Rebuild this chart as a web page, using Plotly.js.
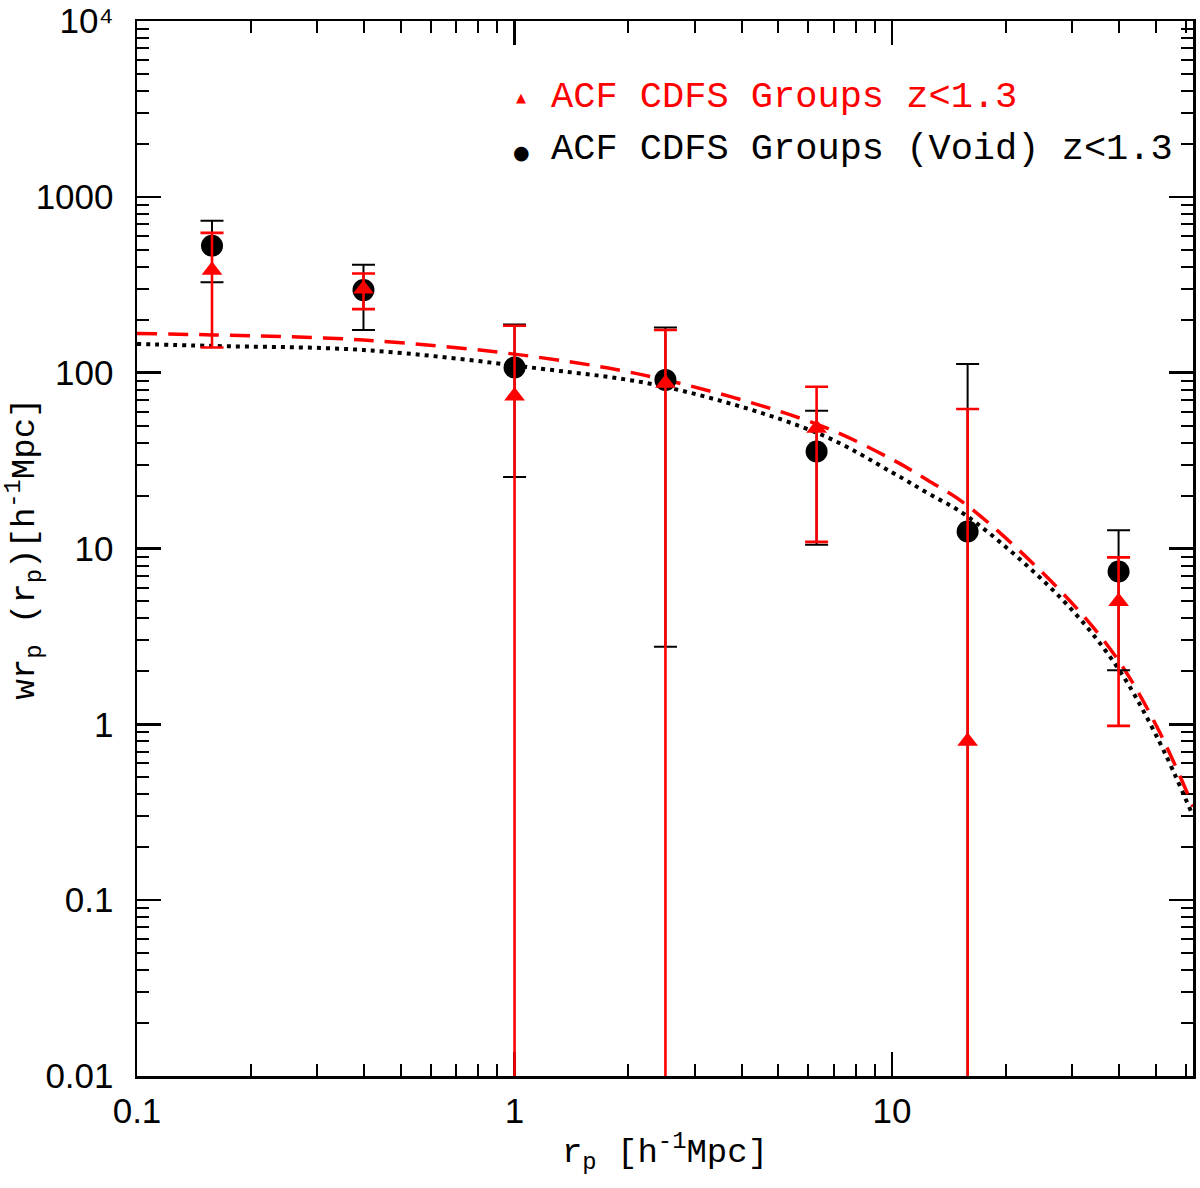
<!DOCTYPE html>
<html>
<head>
<meta charset="utf-8">
<script src="https://cdn.plot.ly/plotly-3.0.1.min.js"></script>
<style>
  html, body { margin: 0; padding: 0; background: #fff; }
  #plot { width: 1200px; height: 1188px; }
</style>
</head>
<body>
<div id="plot"></div>
<script>
// PUNTOS (rp en h^-1 Mpc)
var rp = [0.158, 0.398, 1.0, 2.51, 6.31, 15.85, 39.8];

// ACF CDFS Groups (Void) z<1.3  -> circulos negros
var wVoid = [527, 295, 107, 91, 35.6, 12.5, 7.4];
var wVoidHigh = [731, 411, 188, 181, 60.8, 112, 12.7];
var wVoidLow = [327, 175, 25.5, 2.76, 10.5, 0.001, 2.03];   // 0.001 = baja hasta el eje

// ACF CDFS Groups z<1.3  -> triangulos rojos
var wGroups = [383, 299, 73.8, 87, 48.3, 0.80, 5.0];
var wGroupsHigh = [624, 367, 185, 175, 83.2, 62.2, 8.9];
var wGroupsLow = [139, 230, 0.001, 0.001, 10.9, 0.001, 0.98];

// CURVAS DEL MODELO
var rpModel = [0.1, 0.158, 0.398, 1.147, 2.51, 6.31, 10.06, 12.4, 15.85, 27.8, 39.1, 50.2, 62.7];
var modelRed = [167, 164, 153.5, 122.7, 91, 51, 31.9, 24.5, 17.5, 5.8, 2.43, 0.975, 0.34];
var modelBlack = [145.6, 142, 134.6, 106, 83, 45.6, 26.9, 20.7, 15.2, 5.3, 2.18, 0.855, 0.30];

// ETIQUETAS
var xTickVals = [0.1, 1, 10];
var xTickText = ['0.1', '1', '10'];
var yTickVals = [0.01, 0.1, 1, 10, 100, 1000, 10000];
var yTickText = ['0.01', '0.1', '1', '10', '100', '1000', '10\u2074'];
var legendRed = 'ACF CDFS Groups z<1.3';
var legendBlack = 'ACF CDFS Groups (Void) z<1.3';

var RED = '#ff0000';
var MONO = 'Liberation Mono, Courier New, monospace';
var SANS = 'Liberation Sans, DejaVu Sans, Arial, sans-serif';

function plus(hi, y) { return hi.map(function (h, i) { return h - y[i]; }); }
function minus(lo, y) { return lo.map(function (l, i) { return y[i] - l; }); }

// ticks menores 2..9 de cada decada
function minorTicks(from, to) {
  var out = [];
  for (var e = from; e < to; e++) {
    for (var k = 2; k <= 9; k++) out.push(k * Math.pow(10, e));
  }
  return out;
}

var traceRedModel = {
  x: rpModel, y: modelRed, mode: 'lines', type: 'scatter',
  line: { color: RED, width: 3.5, dash: '20px,11px', shape: 'spline' },
  showlegend: false, hoverinfo: 'skip'
};
var traceBlackModel = {
  x: rpModel, y: modelBlack, mode: 'lines', type: 'scatter',
  line: { color: '#000', width: 4, dash: '4px,5px', shape: 'spline' },
  showlegend: false, hoverinfo: 'skip'
};
var traceVoid = {
  x: rp, y: wVoid, mode: 'markers', type: 'scatter',
  marker: { symbol: 'circle', size: 22, color: '#000' },
  error_y: {
    type: 'data', symmetric: false,
    array: plus(wVoidHigh, wVoid), arrayminus: minus(wVoidLow, wVoid),
    color: '#000', thickness: 2, width: 11.5
  },
  showlegend: false
};
var traceGroups = {
  x: rp, y: wGroups, mode: 'markers', type: 'scatter',
  marker: { symbol: 'triangle-up', size: 18, color: RED },
  error_y: {
    type: 'data', symmetric: false,
    array: plus(wGroupsHigh, wGroups), arrayminus: minus(wGroupsLow, wGroups),
    color: RED, thickness: 2.6, width: 11.5
  },
  showlegend: false
};

var axisCommon = {
  type: 'log',
  layer: 'below traces',
  showline: true, linecolor: '#000', linewidth: 2.5, mirror: 'allticks',
  ticks: 'inside', ticklen: 24, tickwidth: 2.5, tickcolor: '#000',
  showgrid: false, zeroline: false,
  tickfont: { family: SANS, size: 35, color: '#000' }
};

var layout = {
  width: 1200, height: 1188,
  margin: { l: 137, r: 7, t: 21, b: 112 },
  paper_bgcolor: '#fff', plot_bgcolor: '#fff',
  showlegend: false,
  xaxis: Object.assign({}, axisCommon, {
    range: [-1, 1.797],
    tickmode: 'array', tickvals: xTickVals, ticktext: xTickText,
    ticklabelstandoff: 2,
    minor: { ticks: 'inside', ticklen: 12, tickwidth: 2, tickcolor: '#000', tickvals: minorTicks(-1, 2), showgrid: false },
    title: { text: 'r<sub>p</sub> [h<sup>-1</sup>Mpc]', font: { family: MONO, size: 34, color: '#000' }, standoff: 10 }
  }),
  yaxis: Object.assign({}, axisCommon, {
    range: [-2.0005, 4.0005],
    tickmode: 'array', tickvals: yTickVals, ticktext: yTickText,
    ticklabelstandoff: 14,
    minor: { ticks: 'inside', ticklen: 12, tickwidth: 2, tickcolor: '#000', tickvals: minorTicks(-2, 4), showgrid: false },
    title: { text: 'wr<sub>p</sub> (r<sub>p</sub>)[h<sup>-1</sup>Mpc]', font: { family: MONO, size: 34, color: '#000' }, standoff: 6 }
  }),
  annotations: [
    { xref: 'paper', yref: 'paper', x: (521 - 137) / 1056, y: 1 - (98 - 21) / 1055,
      text: '▲', showarrow: false, xanchor: 'center', yanchor: 'middle',
      font: { family: 'DejaVu Sans', size: 13, color: RED } },
    { xref: 'paper', yref: 'paper', x: (549 - 137) / 1056, y: 1 - (97 - 21) / 1055,
      text: legendRed, showarrow: false, xanchor: 'left', yanchor: 'middle',
      font: { family: MONO, size: 37, color: RED } },
    { xref: 'paper', yref: 'paper', x: (521 - 137) / 1056, y: 1 - (152 - 21) / 1055,
      text: '●', showarrow: false, xanchor: 'center', yanchor: 'middle',
      font: { family: 'DejaVu Sans', size: 19, color: '#000' } },
    { xref: 'paper', yref: 'paper', x: (549 - 137) / 1056, y: 1 - (149 - 21) / 1055,
      text: legendBlack, showarrow: false, xanchor: 'left', yanchor: 'middle',
      font: { family: MONO, size: 37, color: '#000' } }
  ]
};

Plotly.newPlot('plot', [traceRedModel, traceBlackModel, traceVoid, traceGroups], layout, { staticPlot: true });
</script>
</body>
</html>
